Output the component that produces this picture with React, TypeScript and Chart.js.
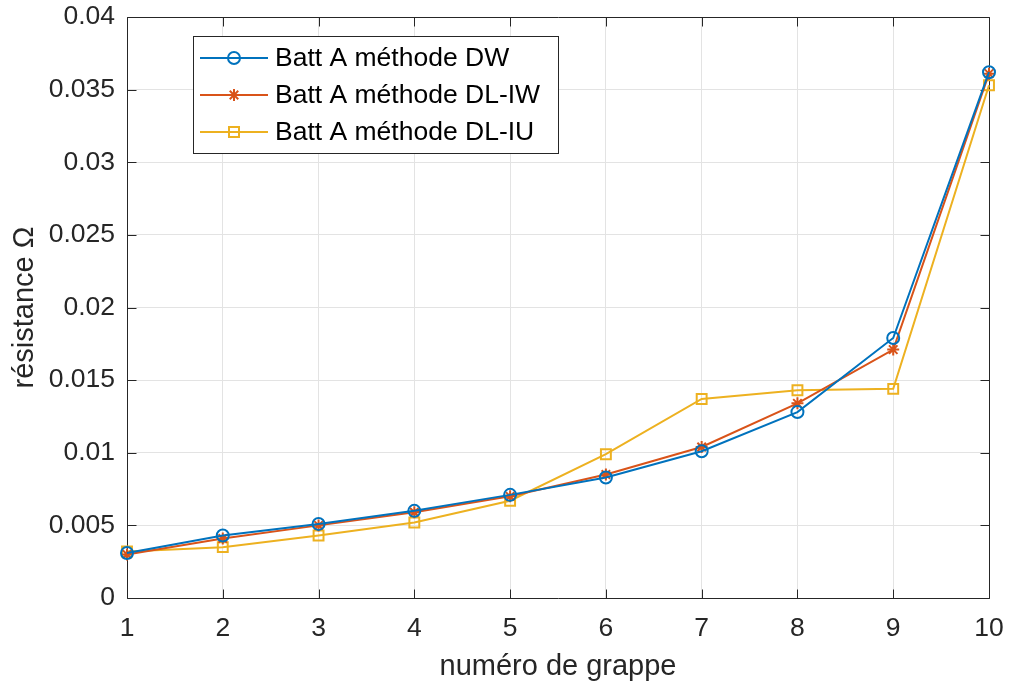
import React, { useEffect, useRef } from 'react';
import { Chart, registerables } from 'chart.js';

Chart.register(...registerables);

const clusterNumbers = [1, 2, 3, 4, 5, 6, 7, 8, 9, 10];
const dwValues = [0.0031, 0.0043, 0.0051, 0.0060, 0.0071, 0.0083, 0.0101, 0.0128, 0.0179, 0.0362];
const dlIwValues = [0.0030, 0.0041, 0.0050, 0.0059, 0.0070, 0.0085, 0.0104, 0.0134, 0.0171, 0.0361];
const dlIuValues = [0.0032, 0.0035, 0.0043, 0.0052, 0.0067, 0.0099, 0.0137, 0.0143, 0.0144, 0.0353];
const seriesLabels = ['Batt A méthode DW', 'Batt A méthode DL-IW', 'Batt A méthode DL-IU'];
const seriesColors = ['#0072BD', '#D95319', '#EDB120'];
const seriesMarkers = ['circle', 'star', 'rect'];
const xAxisTitle = 'numéro de grappe';
const yAxisTitle = 'résistance Ω';

const FONT = '"Liberation Sans", Arial, Helvetica, sans-serif';
const AXIS_COLOR = '#262626';
const TICK_SIZE = 26.5;
const TITLE_SIZE = 29;

function drawMarker(ctx: CanvasRenderingContext2D, style: string, x: number, y: number, color: string) {
  ctx.save();
  ctx.strokeStyle = color;
  ctx.lineWidth = 2;
  ctx.beginPath();
  if (style === 'circle') {
    ctx.arc(x, y, 6, 0, Math.PI * 2);
  } else if (style === 'star') {
    const r = 6;
    const d = r * Math.SQRT1_2;
    ctx.moveTo(x - r, y); ctx.lineTo(x + r, y);
    ctx.moveTo(x, y - r); ctx.lineTo(x, y + r);
    ctx.moveTo(x - d, y - d); ctx.lineTo(x + d, y + d);
    ctx.moveTo(x - d, y + d); ctx.lineTo(x + d, y - d);
  } else {
    ctx.rect(x - 5, y - 5, 10, 10);
  }
  ctx.stroke();
  ctx.restore();
}

const framePlugin = {
  id: 'matlabFrame',
  beforeDatasetsDraw(chart: any) {
    const { ctx, chartArea } = chart;
    const { left, right, top, bottom } = chartArea;
    const xs = chart.scales.x;
    const ys = chart.scales.y;
    ctx.save();
    ctx.strokeStyle = AXIS_COLOR;
    ctx.lineWidth = 1;
    const L = Math.round(left) + 0.5;
    const R = Math.round(right) + 0.5;
    const T = Math.round(top) + 0.5;
    const B = Math.round(bottom) + 0.5;
    ctx.beginPath();
    ctx.rect(L, T, R - L, B - T);
    const tl = 9;
    xs.ticks.forEach((t: any) => {
      const px = Math.round(xs.getPixelForValue(t.value)) + 0.5;
      ctx.moveTo(px, B); ctx.lineTo(px, B - tl);
      ctx.moveTo(px, T); ctx.lineTo(px, T + tl);
    });
    ys.ticks.forEach((t: any) => {
      const py = Math.round(ys.getPixelForValue(t.value)) + 0.5;
      ctx.moveTo(L, py); ctx.lineTo(L + tl, py);
      ctx.moveTo(R, py); ctx.lineTo(R - tl, py);
    });
    ctx.stroke();
    ctx.restore();
  },
};

const legendPlugin = {
  id: 'matlabLegend',
  afterDatasetsDraw(chart: any) {
    const { ctx } = chart;
    const bx = 193.5, by = 36.5, bw = 365, bh = 117;
    ctx.save();
    ctx.fillStyle = '#ffffff';
    ctx.fillRect(bx, by, bw, bh);
    ctx.strokeStyle = AXIS_COLOR;
    ctx.lineWidth = 1;
    ctx.strokeRect(bx, by, bw, bh);
    const rows = [58, 95, 132];
    seriesLabels.forEach((label, i) => {
      const y = rows[i];
      ctx.strokeStyle = seriesColors[i];
      ctx.lineWidth = 2;
      ctx.beginPath();
      ctx.moveTo(200, y);
      ctx.lineTo(268, y);
      ctx.stroke();
      drawMarker(ctx, seriesMarkers[i], 234, y, seriesColors[i]);
      ctx.fillStyle = '#000000';
      ctx.font = `${TICK_SIZE}px ${FONT}`;
      ctx.textBaseline = 'middle';
      ctx.textAlign = 'left';
      ctx.fillText(label, 275, y + 1);
    });
    ctx.restore();
  },
};

function makeDataset(i: number, values: number[]) {
  return {
    label: seriesLabels[i],
    data: clusterNumbers.map((x, k) => ({ x, y: values[k] })),
    borderColor: seriesColors[i],
    backgroundColor: 'rgba(0,0,0,0)',
    pointBorderColor: seriesColors[i],
    pointBackgroundColor: 'rgba(0,0,0,0)',
    pointStyle: seriesMarkers[i],
    pointRadius: seriesMarkers[i] === 'rect' ? 7 : 6,
    pointBorderWidth: 2,
    borderWidth: 2,
    tension: 0,
    clip: false as any,
  };
}

export default function App() {
  const canvasRef = useRef<HTMLCanvasElement | null>(null);

  useEffect(() => {
    if (!canvasRef.current) return;
    const chart = new Chart(canvasRef.current, {
      type: 'line',
      data: {
        datasets: [
          makeDataset(0, dwValues),
          makeDataset(1, dlIwValues),
          makeDataset(2, dlIuValues),
        ],
      },
      options: {
        animation: false,
        responsive: true,
        maintainAspectRatio: false,
        layout: { padding: { left: 0, top: 17, right: 21, bottom: 0 } },
        plugins: {
          legend: { display: false },
          tooltip: { enabled: false },
        },
        scales: {
          x: {
            type: 'linear',
            min: 1,
            max: 10,
            ticks: {
              stepSize: 1,
              color: AXIS_COLOR,
              font: { family: FONT, size: TICK_SIZE },
              padding: 15,
              maxRotation: 0,
            },
            grid: { color: '#e3e3e3', lineWidth: 1, drawTicks: false },
            border: { display: false },
            title: {
              display: true,
              text: xAxisTitle,
              color: AXIS_COLOR,
              font: { family: FONT, size: TITLE_SIZE },
              padding: { top: 0, bottom: 2 },
            },
            afterFit(scale: any) {
              scale.height = 88;
              scale.paddingLeft = 0;
              scale.paddingRight = 0;
            },
          },
          y: {
            type: 'linear',
            min: 0,
            max: 0.04,
            ticks: {
              stepSize: 0.005,
              color: AXIS_COLOR,
              font: { family: FONT, size: TICK_SIZE },
              padding: 12,
              callback: (v: any) => String(parseFloat(Number(v).toFixed(4))),
            },
            grid: { color: '#e3e3e3', lineWidth: 1, drawTicks: false },
            border: { display: false },
            title: {
              display: true,
              text: yAxisTitle,
              color: AXIS_COLOR,
              font: { family: FONT, size: TITLE_SIZE },
              padding: { top: 7.6, bottom: 0 },
            },
            afterFit(scale: any) {
              scale.width = 127;
              scale.paddingTop = 0;
              scale.paddingBottom = 0;
            },
          },
        },
      },
      plugins: [framePlugin, legendPlugin],
    });
    return () => chart.destroy();
  }, []);

  return (
    <div style={{ position: 'absolute', left: 0, top: 0, width: 1010, height: 686, background: '#ffffff' }}>
      <canvas ref={canvasRef} />
    </div>
  );
}
